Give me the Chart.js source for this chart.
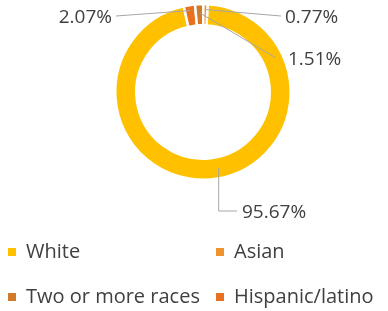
<!DOCTYPE html>
<html>
<head>
<meta charset="utf-8">
<script src="https://cdn.jsdelivr.net/npm/chart.js@4.4.1/dist/chart.umd.min.js"></script>
<style>
    html, body { margin: 0; padding: 0; background: #fff; }
    #wrap { position: relative; width: 388px; height: 311px; }
</style>
</head>
<body>
<div id="wrap"><canvas id="chart"></canvas></div>
<script>
// slices, clockwise after White
const categories = ['White', 'Hispanic/latino', 'Two or more races', 'Asian'];
const shares = [95.67, 2.07, 1.51, 0.77];
const valueLabels = ['95.67%', '2.07%', '1.51%', '0.77%'];
const sliceColors = ['#FFC000', '#E8701E', '#D07A2A', '#F0922E'];
// legend reads White, Asian / Two or more races, Hispanic/latino
const legendOrder = [0, 3, 2, 1];

const FONT = '"Open Sans", "Noto Sans", sans-serif';

const sliceLabels = {
    id: 'sliceLabels',
    afterDatasetsDraw(chart) {
        const ctx = chart.ctx;
        const arcs = chart.getDatasetMeta(0).data;
        const cx = arcs[0].x;
        const cy = arcs[0].y;

        // point on the ring: f = position along the arc, t = across the ring
        const ringPoint = (arc, f, t) => {
            const a = arc.startAngle + (arc.endAngle - arc.startAngle) * f;
            const rr = arc.innerRadius + (arc.outerRadius - arc.innerRadius) * t;
            return [arc.x + Math.cos(a) * rr, arc.y + Math.sin(a) * rr];
        };

        ctx.save();
        ctx.font = '19px ' + FONT;
        ctx.fillStyle = '#404040';
        ctx.strokeStyle = '#A6A6A6';
        ctx.lineWidth = 1;
        ctx.textBaseline = 'middle';

        // White: elbow line from the bottom of the ring
        let p = ringPoint(arcs[0], 0.48, 0.5);
        let ty = cy + 121;
        ctx.beginPath();
        ctx.moveTo(p[0], p[1]);
        ctx.lineTo(p[0], ty - 2);
        ctx.lineTo(cx + 34, ty - 2);
        ctx.stroke();
        ctx.textAlign = 'left';
        ctx.fillText(valueLabels[0], cx + 39, ty);

        // Hispanic/latino, to the left
        p = ringPoint(arcs[1], 0.5, 0.75);
        ty = cy - 74;
        ctx.beginPath();
        ctx.moveTo(cx - 87, ty - 2);
        ctx.lineTo(p[0], p[1]);
        ctx.stroke();
        ctx.textAlign = 'right';
        ctx.fillText(valueLabels[1], cx - 91, ty);

        // Two or more races, down right
        p = ringPoint(arcs[2], 0.5, 0.6);
        ty = cy - 32;
        ctx.beginPath();
        ctx.moveTo(p[0], p[1]);
        ctx.lineTo(cx + 73, ty - 2);
        ctx.stroke();
        ctx.textAlign = 'left';
        ctx.fillText(valueLabels[2], cx + 85, ty);

        // Asian, to the right
        p = ringPoint(arcs[3], 0.5, 0.75);
        ty = cy - 74;
        ctx.beginPath();
        ctx.moveTo(p[0], p[1]);
        ctx.lineTo(cx + 78, ty - 2);
        ctx.stroke();
        ctx.fillText(valueLabels[3], cx + 82, ty);

        ctx.restore();
    }
};

const gridLegend = {
    id: 'gridLegend',
    afterDraw(chart) {
        const ctx = chart.ctx;
        const colX = [8, 216];
        const rowY = [252, 297];
        ctx.save();
        ctx.font = '20px ' + FONT;
        ctx.textBaseline = 'middle';
        ctx.textAlign = 'left';
        legendOrder.forEach((idx, i) => {
            const x = colX[i % 2];
            const y = rowY[Math.floor(i / 2)];
            ctx.fillStyle = sliceColors[idx];
            ctx.fillRect(x, y - 4, 8, 8);
            ctx.fillStyle = '#404040';
            ctx.fillText(categories[idx], x + 18, y);
        });
        ctx.restore();
    }
};

const ctx = document.getElementById('chart').getContext('2d');
new Chart(ctx, {
    type: 'doughnut',
    data: {
        labels: categories,
        datasets: [{
            data: shares,
            backgroundColor: sliceColors,
            borderColor: '#ffffff',
            borderWidth: 2.5
        }]
    },
    options: {
        responsive: true,
        maintainAspectRatio: false,
        animation: false,
        rotation: 3,
        cutout: '76%',
        layout: {
            padding: { top: 3, left: 18, right: 0, bottom: 130 }
        },
        plugins: {
            legend: { display: false },
            tooltip: { enabled: false }
        }
    },
    plugins: [sliceLabels, gridLegend]
});
</script>
</body>
</html>
